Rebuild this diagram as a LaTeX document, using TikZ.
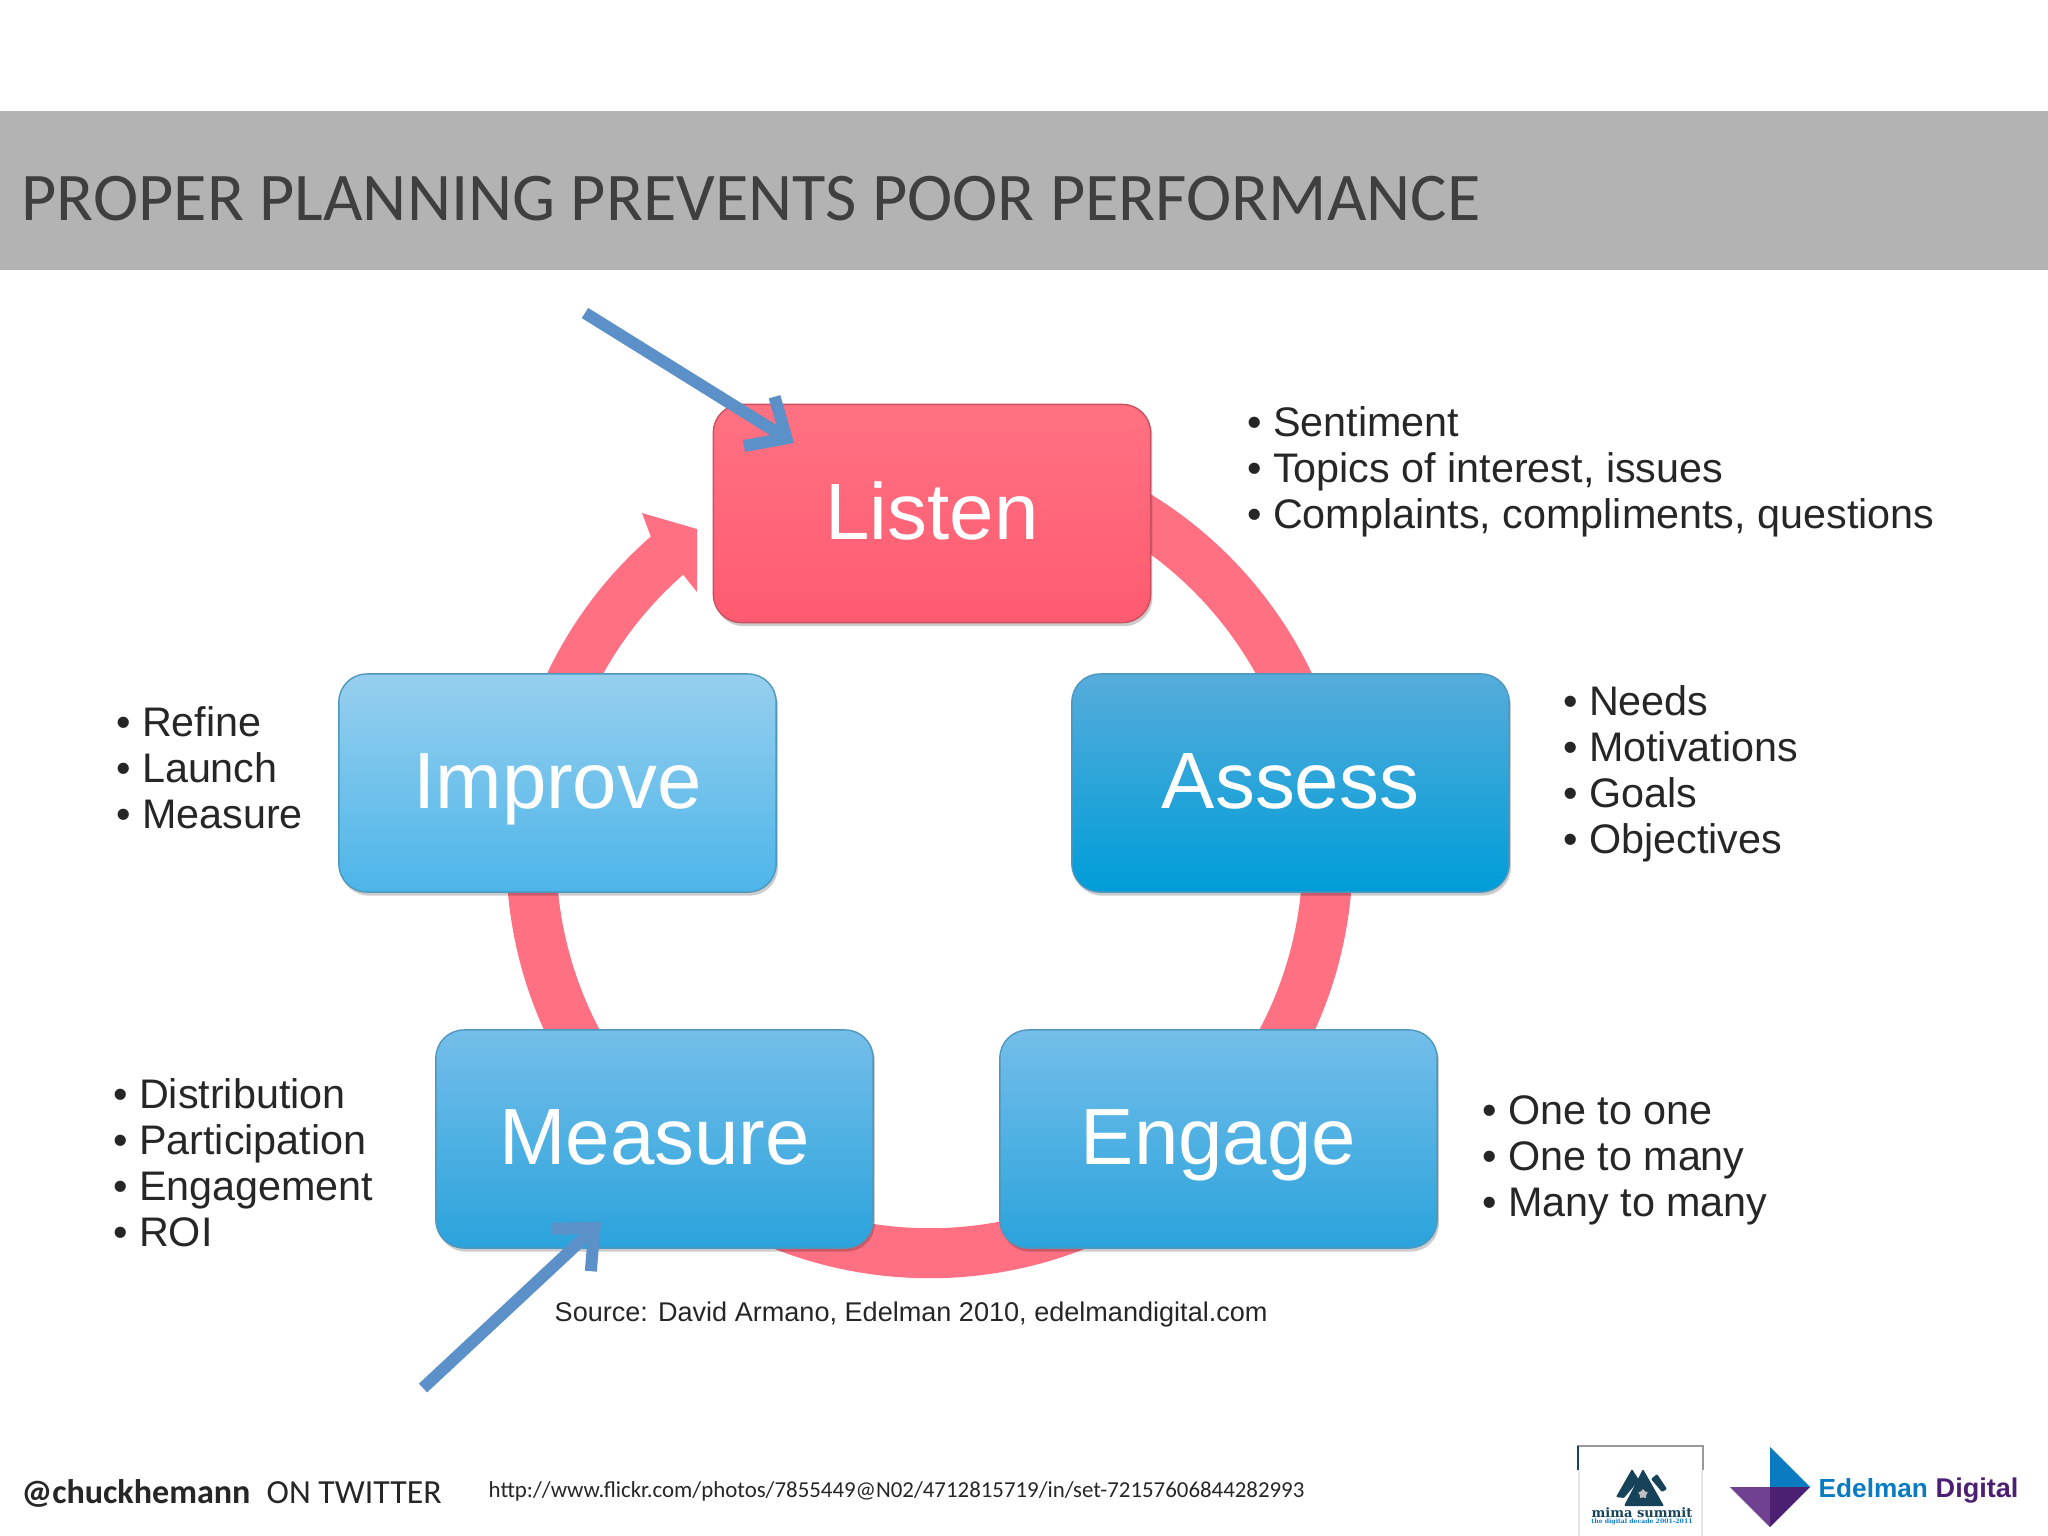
\documentclass[tikz,border=0pt]{standalone}
\usepackage{fontspec}
\setmainfont{Liberation Sans}
\newfontfamily\calibrifont{Carlito}
\newfontfamily\slabfont{DejaVu Serif}
\usetikzlibrary{arrows.meta, calc, shapes.geometric, shadows}

\definecolor{headgrey}{HTML}{B3B3B3}
\definecolor{titlegrey}{HTML}{3F3F3F}
\definecolor{ringpink}{HTML}{FF7083}
\definecolor{listentop}{HTML}{FF7282}
\definecolor{listenbot}{HTML}{FF5A70}
\definecolor{listenedge}{HTML}{C9505F}
\definecolor{improvetop}{HTML}{97CFEE}
\definecolor{improvebot}{HTML}{4DB5E9}
\definecolor{assesstop}{HTML}{56ACDA}
\definecolor{assessbot}{HTML}{009DD9}
\definecolor{lowertop}{HTML}{74BEEA}
\definecolor{lowerbot}{HTML}{2BA3DC}
\definecolor{blueedge}{HTML}{4E97BE}
\definecolor{notearrow}{HTML}{5B90C8}
\definecolor{edelblue}{HTML}{0A7BC1}
\definecolor{edelpurple}{HTML}{4B1F72}
\definecolor{edellilac}{HTML}{6F4190}
\definecolor{mimanavy}{HTML}{17435A}

\tikzset{
  stagebox/.style={rectangle, rounded corners=0.28cm, minimum width=4.37cm, minimum height=2.18cm,
    text=white, line width=0.4pt, font=\fontsize{22.7}{26}\selectfont, text height=0.6cm, text depth=0.09cm,
    drop shadow={shadow xshift=0.5pt, shadow yshift=-1pt, opacity=0.2, fill=black}},
  bluebox/.style={stagebox, draw=blueedge, top color=#1top, bottom color=#1bot},
  bulletlist/.style={anchor=west, align=left, inner sep=0pt, text=black!85,
    font=\fontsize{11.75}{13.1}\selectfont},
  notearrowline/.style={draw=notearrow, line width=0.12cm, -{Straight Barb[length=0.32cm, width=0.58cm]}},
  footertext/.style={anchor=base west, inner sep=0pt, text=black!85, font=\calibrifont}
}
\newcommand{\blt}{\textbullet\hspace{0.5ex}}

\begin{document}
\begin{tikzpicture}[x=0.01cm, y=-0.01cm, >=stealth]
\useasboundingbox (0,0) rectangle (2048,1536);

% Title band
\fill[headgrey] (0,111) rectangle (2048,270);
\node[anchor=base west, inner sep=0pt, text=titlegrey] (title) at (21,220)
  {\calibrifont\fontsize{19.4}{22}\selectfont PROPER PLANNING PREVENTS POOR PERFORMANCE};

% Ring
\coordinate (ringc) at (929.5,855);
\draw[ringpink, line width=0.5cm] ($(ringc)+(130.3:3.98cm)$) arc[start angle=130.3, end angle=430, radius=3.98cm];
\fill[ringpink] (642,513) -- (697,529) -- (697,592) -- (681,572) -- (651,537) -- cycle;

% Stages
\node[stagebox, draw=listenedge, top color=listentop, bottom color=listenbot] (listen) at (932,513.5) {Listen};
\node[bluebox=improve] (improve) at (557.5,783) {Improve};
\node[bluebox=assess] (assess) at (1290.5,783) {Assess};
\node[bluebox=lower] (measure) at (654.5,1139) {Measure};
\node[bluebox=lower] (engage) at (1218.5,1139) {Engage};

% Lists
\node[bulletlist] (listenlist) at (1247,472) {\blt Sentiment\\ \blt Topics of interest, issues\\ \blt Complaints, compliments, questions};
\node[bulletlist] (assesslist) at (1563,774) {\blt Needs\\ \blt Motivations\\ \blt Goals\\ \blt Objectives};
\node[bulletlist] (improvelist) at (116,768) {\blt Refine\\ \blt Launch\\ \blt Measure};
\node[bulletlist] (measurelist) at (113,1163) {\blt Distribution\\ \blt Participation\\ \blt Engagement\\ \blt ROI};
\node[bulletlist] (engagelist) at (1482,1160) {\blt One to one\\ \blt One to many\\ \blt Many to many};

\node[anchor=west, inner sep=0pt, text=black!85, font=\fontsize{7.7}{9}\selectfont] (source) at (554,1314) {Source: David Armano, Edelman 2010, edelmandigital.com};

% Note arrows
\coordinate (listenstart) at (585,313);
\coordinate (listentip) at (794,443);
\coordinate (measurestart) at (423,1388);
\coordinate (measuretip) at (601,1222);
\draw[notearrowline] (listenstart) -- (listentip);
\draw[notearrowline] (measurestart) -- (measuretip);

% Footer
\node[footertext, font=\calibrifont\bfseries\fontsize{9.7}{11}\selectfont] (handle) at (21,1503) {@chuckhemann};
\node[footertext, font=\calibrifont\fontsize{9.6}{11}\selectfont] (twitter) at (266,1503) {ON TWITTER};
\node[footertext, font=\calibrifont\fontsize{6.5}{8}\selectfont] (url) at (488,1497) {http://www.flickr.com/photos/7855449@N02/4712815719/in/set-72157606844282993};

% Mima logo
\draw[black!40, line width=0.3pt] (1578,1470) -- (1578,1446) -- (1703,1446) -- (1703,1470);
\draw[mimanavy, line width=0.5pt] (1578,1470) -- (1578,1446);
\draw[black!10, line width=0.3pt] (1579,1470) -- (1579,1536);
\draw[black!10, line width=0.3pt] (1702,1470) -- (1702,1536);
\fill[mimanavy, rounded corners=0.3pt] (1632,1469) -- (1639,1480) -- (1624,1498) -- (1616,1497) -- cycle;
\fill[mimanavy, rounded corners=0.3pt] (1657,1474) -- (1667,1489) -- (1662,1492) -- (1651,1479) -- cycle;
\fill[mimanavy, rounded corners=0.3pt] (1643,1469) -- (1664,1506) -- (1624,1506) -- cycle;
\node[star, star points=5, fill=white!75!black, inner sep=0pt, minimum size=0.1cm] (mimastar) at (1643,1494) {};
\node[inner sep=0pt, text=mimanavy, font=\slabfont\bfseries\fontsize{3.7}{5}\selectfont] (mimaname) at (1642,1513) {mima summit};
\node[inner sep=0pt, text=cyan!60!blue, font=\slabfont\bfseries\fontsize{1.75}{3}\selectfont] (mimadecade) at (1642,1522) {the digital decade 2001-2011};

% Edelman logo
\fill[edelblue] (1770,1447) -- (1810,1487) -- (1770,1487) -- cycle;
\fill[edellilac] (1730,1487) -- (1770,1487) -- (1770,1527) -- cycle;
\fill[edelpurple] (1770,1487) -- (1810,1487) -- (1770,1527) -- cycle;
\node[anchor=base west, inner sep=0pt, text=edelblue, font=\bfseries\fontsize{7.45}{9}\selectfont] (edelman) at (1818,1497) {Edelman};
\node[anchor=base west, inner sep=0pt, text=edelpurple, font=\bfseries\fontsize{7.7}{9}\selectfont] (digital) at (1935,1497) {Digital};

\end{tikzpicture}
\end{document}
